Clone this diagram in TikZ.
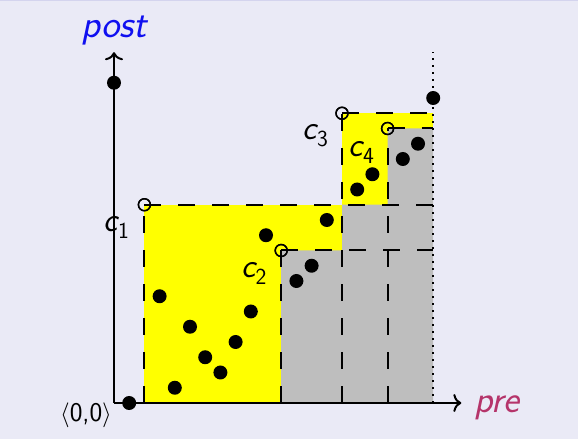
\documentclass[tikz,border=0pt]{standalone}
\usetikzlibrary{arrows.meta}
\definecolor{bgcol}{HTML}{EAEAF6}
\definecolor{toplinecol}{HTML}{D4D4EE}
\definecolor{precol}{HTML}{B5346A}
\definecolor{postcol}{HTML}{1010F0}
\definecolor{grayfill}{HTML}{BEBEBE}
\definecolor{yellowfill}{HTML}{FFFF00}
\newcommand{\clab}[1]{{\fontsize{34}{34}\selectfont\sffamily\itshape c}\raisebox{-7pt}{\fontsize{23}{23}\selectfont\sffamily #1}}
\begin{document}
\begin{tikzpicture}[x=15.2pt,y=15.25pt,
  dot/.style={circle,fill=black,inner sep=0pt,minimum size=14pt},
  odot/.style={circle,draw=black,line width=1.4pt,inner sep=0pt,minimum size=12pt},
  dline/.style={line width=2pt,dash pattern=on 17pt off 17pt},
  axisline/.style={line width=2pt,-{To[length=8pt,width=18pt]}},
  dotline/.style={line width=1.6pt,dash pattern=on 2pt off 5pt},
  lab/.style={inner sep=0pt,anchor=center}]
\useasboundingbox (-114pt,-36pt) rectangle (464pt,403pt);
\fill[bgcol] (-114pt,-36pt) rectangle (464pt,403pt);
\draw[toplinecol,line width=1.5pt] (-114pt,402.3pt) -- (464pt,402.3pt);

% fills
\fill[yellowfill] (2,0) rectangle (15,13);
\fill[yellowfill] (15,13) rectangle (21,19);
\fill[grayfill] (11,0) -- (11,10) -- (15,10) -- (15,13) -- (18,13) -- (18,18) -- (21,18) -- (21,0) -- cycle;

% corner coordinates
\coordinate (o) at (0,0);
\coordinate (ytop) at (0,23);
\coordinate (xend) at (22.85,0);
\coordinate (b1) at (2,0);
\coordinate (b2) at (11,0);
\coordinate (b3) at (15,0);
\coordinate (b4) at (18,0);
\coordinate (r1) at (21,13);
\coordinate (r2) at (21,10);
\coordinate (r3) at (21,19);
\coordinate (r4) at (21,18);
\coordinate (dbot) at (21,0);
\coordinate (dtop) at (21,23);

\node[odot] (c1) at (2,13) {};
\node[odot] (c2) at (11,10) {};
\node[odot] (c3) at (15,19) {};
\node[odot] (c4) at (18,18) {};

% dashed lines
\draw[dline] (b1) -- (c1.center);
\draw[dline] (c1.center) -- (r1);
\draw[dline] (b2) -- (c2.center);
\draw[dline] (c2.center) -- (r2);
\draw[dline] (b3) -- (c3.center);
\draw[dline] (c3.center) -- (r3);
\draw[dline] (b4) -- (c4.center);
\draw[dline] (c4.center) -- (r4);

% dotted line
\draw[dotline] (dbot) -- (dtop);

% axes
\draw[axisline] (o) -- (ytop);
\draw[axisline] (o) -- (xend);

% open circles on top
\node[odot] at (c1) {};
\node[odot] at (c2) {};
\node[odot] at (c3) {};
\node[odot] at (c4) {};

% dots
\foreach \n/\p in {d1/{(0,21)},d2/{(1,0)},d3/{(21,20)},d4/{(3,7)},d5/{(4,1)},d6/{(5,5)},d7/{(6,3)},d8/{(7,2)},d9/{(8,4)},d10/{(9,6)},d11/{(10,11)},d12/{(14,12)},d13/{(12,8)},d14/{(13,9)},d15/{(16,14)},d16/{(17,15)},d17/{(19,16)},d18/{(20,17)}}
  \node[dot] (\n) at \p {};

% labels
\node[lab] (l1) at (2.5pt,175.5pt) {\clab{1}};
\node[lab] (l2) at (140pt,130pt) {\clab{2}};
\node[lab] (l3) at (201.5pt,267pt) {\clab{3}};
\node[lab] (l4) at (247.5pt,251pt) {\clab{4}};
\node[lab] (zero) at (-28pt,-12.5pt) {\fontsize{27}{27}\selectfont\sffamily$\langle$0,0$\rangle$};
\node[lab,text=postcol] (post) at (0.5pt,372.5pt) {\fontsize{39}{39}\selectfont\sffamily\itshape post};
\node[lab,text=precol] (pre) at (383pt,-5pt) {\fontsize{38}{38}\selectfont\sffamily\itshape pre};
\end{tikzpicture}
\end{document}
